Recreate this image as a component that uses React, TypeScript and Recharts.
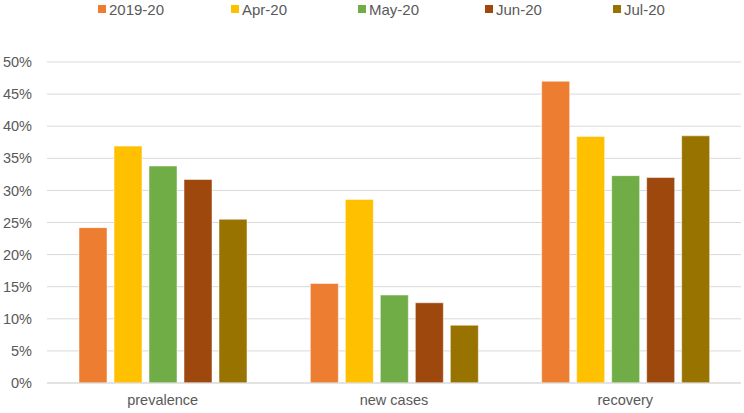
import { BarChart, Bar, XAxis, YAxis, CartesianGrid, Legend } from 'recharts';

const categories = ['prevalence', 'new cases', 'recovery'];
const s2019 = [0.242, 0.155, 0.47];
const sApr = [0.369, 0.286, 0.384];
const sMay = [0.338, 0.137, 0.323];
const sJun = [0.317, 0.125, 0.32];
const sJul = [0.255, 0.09, 0.385];
const yTicks = [0, 0.05, 0.1, 0.15, 0.2, 0.25, 0.3, 0.35, 0.4, 0.45, 0.5];

const series = [
  { key: 's2019', name: '2019-20', color: '#ED7D31' },
  { key: 'sApr', name: 'Apr-20', color: '#FFC000' },
  { key: 'sMay', name: 'May-20', color: '#70AD47' },
  { key: 'sJun', name: 'Jun-20', color: '#9E480E' },
  { key: 'sJul', name: 'Jul-20', color: '#997300' },
];
// legend slot widths, as in the original layout
const slotWidths = [133, 127, 127, 128, 100];

const data = categories.map((c, i) => ({
  name: c,
  s2019: s2019[i],
  sApr: sApr[i],
  sMay: sMay[i],
  sJun: sJun[i],
  sJul: sJul[i],
}));

const FONT = '"Liberation Sans", Arial, sans-serif';

const LegendContent = () => (
  <div style={{ display: 'flex', fontFamily: FONT, fontSize: 15, color: '#595959', paddingLeft: 98, height: 18 }}>
    {series.map((s, i) => (
      <div key={s.key} style={{ display: 'flex', alignItems: 'center', width: slotWidths[i] }}>
        <span style={{ width: 8, height: 8, background: s.color, display: 'inline-block', marginRight: 3 }} />
        <span>{s.name}</span>
      </div>
    ))}
  </div>
);

export default function App() {
  return (
    <div style={{ position: 'absolute', top: 0, left: 0, width: 744, height: 413, background: '#fff' }}>
      <BarChart
        width={744}
        height={413}
        data={data}
        margin={{ top: 44, right: 3, left: 0, bottom: 0 }}
        barSize={28}
        barGap={7}
      >
        <CartesianGrid vertical={false} stroke="#D9D9D9" />
        <XAxis
          dataKey="name"
          height={30}
          tickLine={false}
          axisLine={{ stroke: '#D9D9D9' }}
          tick={{ fill: '#595959', fontSize: 14.5, fontFamily: FONT }}
          tickMargin={6}
        />
        <YAxis
          width={47}
          domain={[0, 0.5]}
          ticks={yTicks}
          tickFormatter={(v: number) => `${Math.round(v * 100)}%`}
          axisLine={false}
          tickLine={false}
          tickSize={0}
          tickMargin={15}
          tick={{ fill: '#595959', fontSize: 14.5, fontFamily: FONT }}
        />
        <Legend
          verticalAlign="top"
          content={<LegendContent />}
          wrapperStyle={{ position: 'absolute', top: 0, left: 0, width: 744 }}
        />
        {series.map((s) => (
          <Bar key={s.key} dataKey={s.key} name={s.name} fill={s.color} stroke="#fff" strokeWidth={0.5} isAnimationActive={false} />
        ))}
      </BarChart>
    </div>
  );
}
